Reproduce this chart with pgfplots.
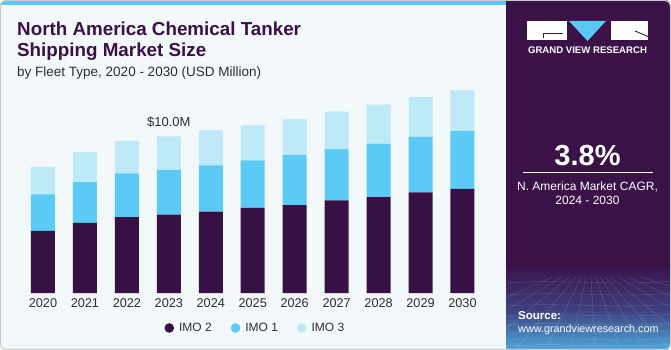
\documentclass[border=0pt]{standalone}
\usepackage{pgfplots}
\usepackage{pgfplotstable}
\pgfplotsset{compat=1.18}
\usepackage{fontspec}
\setmainfont{Liberation Sans}
\definecolor{imotwo}{HTML}{371146}
\definecolor{imoone}{HTML}{5BCBF5}
\definecolor{imothree}{HTML}{BDE9F9}
\definecolor{panel}{HTML}{3A1248}
\definecolor{panelmid}{HTML}{3E3F80}
\definecolor{panelbot}{HTML}{4DA8DC}
\definecolor{bg}{HTML}{F3F8FB}
\definecolor{stripe}{HTML}{5BC8F3}
\definecolor{titlec}{HTML}{3A1048}
\definecolor{txt}{HTML}{2E2E2E}

\pgfplotstableread{
x imo2 imo1 imo3
0 3.98 2.32 1.76
1 4.49 2.60 1.91
2 4.85 2.79 2.08
3 5.02 2.85 2.13
4 5.21 2.94 2.25
5 5.44 3.04 2.23
6 5.62 3.19 2.30
7 5.93 3.27 2.39
8 6.13 3.40 2.51
9 6.43 3.55 2.53
10 6.66 3.68 2.62
}\datatable

\begin{document}
\begin{tikzpicture}[x=1pt,y=1pt]
\useasboundingbox (0,0) rectangle (671,350);
\fill[bg, rounded corners=6pt] (0,0) rectangle (671,350);
\begin{scope}
\clip[rounded corners=6pt] (0,0) rectangle (671,350);
\fill[stripe] (0,345) rectangle (506,350);
\fill[panel] (506,0) rectangle (671,350);
\shade[top color=panel, bottom color=panelmid] (506,40) rectangle (671,85);
\shade[top color=panelmid, bottom color=panelbot] (506,0) rectangle (671,40.2);
\begin{scope}
\clip (506,0) rectangle (671,72);
\foreach \yy in {4,10,17,25,34,44,55,67} {
  \draw[white, opacity=0.15, line width=0.5pt] (506,\yy) .. controls (560,\yy+4) and (620,\yy-3) .. (671,\yy+2);
}
\foreach \xx in {-150,-100,-60,-25,5,30,55,80,105,130,160,200,250,320} {
  \draw[white, opacity=0.15, line width=0.5pt] (590,90) -- (540+\xx,0);
}
\end{scope}
\end{scope}
\draw[gray!40, line width=1pt, rounded corners=6pt] (0.5,0.5) rectangle (670.5,349.5);

% logo
\fill[white] (527,310) rectangle (567,329);
\draw[panel, line width=0.9pt] (543,312) -- (543,317) -- (563,317);
\fill[stripe] (569,329) -- (606,329) -- (587.5,309) -- cycle;
\fill[white] (611,310) rectangle (648,329);
\draw[panel, line width=0.9pt] (635,319) -- (648,313.5);
\node[anchor=base, inner sep=0pt, text=white, font=\fontsize{9.6}{11}\selectfont\bfseries] at (587.5,296) {GRAND VIEW RESEARCH};

% panel text
\node[anchor=base, inner sep=0pt, text=white, font=\fontsize{29}{32}\selectfont\bfseries] at (587.5,184) {3.8\%};
\draw[white, line width=1pt] (523,177) -- (653,177);
\node[anchor=base, inner sep=0pt, text=white, font=\fontsize{12}{14}\selectfont] at (587.5,159.5) {N. America Market CAGR,};
\node[anchor=base, inner sep=0pt, text=white, font=\fontsize{12}{14}\selectfont] at (587.5,145.3) {2024 - 2030};
\node[anchor=base west, inner sep=0pt, text=white, font=\fontsize{11.5}{13}\selectfont\bfseries] at (518,30) {Source:};
\node[anchor=base west, inner sep=0pt, text=white, font=\fontsize{10.8}{13}\selectfont] at (518,17.3) {www.grandviewresearch.com};

% titles
\node[anchor=base west, inner sep=0pt, text=titlec, font=\fontsize{18.8}{20}\selectfont\bfseries] at (17,314) {North America Chemical Tanker};
\node[anchor=base west, inner sep=0pt, text=titlec, font=\fontsize{18.8}{20}\selectfont\bfseries] at (17,293.5) {Shipping Market Size};
\node[anchor=base west, inner sep=0pt, text=txt, font=\fontsize{13.5}{15}\selectfont] at (17,273.3) {by Fleet Type, 2020 - 2030 (USD Million)};

\begin{axis}[
  at={(22pt,56.8pt)}, anchor=south west,
  scale only axis, width=461.45pt, height=219.4pt,
  xmin=-0.5, xmax=10.5, ymin=0, ymax=14,
  ybar stacked, bar width=24pt,
  axis line style={draw=none},
  ytick=\empty,
  xtick={0,1,2,3,4,5,6,7,8,9,10},
  xticklabels={2020,2021,2022,2023,2024,2025,2026,2027,2028,2029,2030},
  major tick length=0pt,
  /pgf/number format/assume math mode=true,
  xticklabel style={inner sep=0pt, yshift=-5.5pt, text=txt, font=\fontsize{12.7}{14}\selectfont},
  clip=false,
  legend columns=3,
  legend style={at={(0.3083,-0.1586)}, anchor=west, draw=none, fill=none, inner sep=0pt,
    font=\fontsize{12}{14}\selectfont, text=txt,
    nodes={inner sep=0pt},
    /tikz/every odd column/.append style={column sep=5pt},
    /tikz/every even column/.append style={column sep=19pt}},
  circ/.style={legend image code/.code={\fill[##1] (4.8pt,0pt) circle (4.8pt);}},
]
\addplot[fill=imotwo, draw=none, circ] table[x=x, y=imo2] {\datatable};
\addplot[fill=imoone, draw=none, circ] table[x=x, y=imo1] {\datatable};
\addplot[fill=imothree, draw=none, circ] table[x=x, y=imo3] {\datatable};
\legend{IMO 2, IMO 1, IMO 3}
\node[anchor=base, inner sep=0pt, yshift=9.5pt, text=txt, font=\fontsize{13}{15}\selectfont] at (axis cs:3,10.0) {\$10.0M};
\end{axis}
\end{tikzpicture}
\end{document}
